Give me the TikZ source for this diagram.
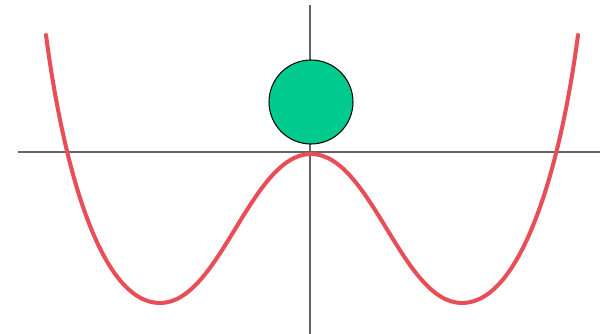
\documentclass[tikz,border=0pt]{standalone}
\definecolor{axisgray}{RGB}{100,100,100}
\definecolor{wellred}{RGB}{232,78,88}
\definecolor{ballgreen}{RGB}{0,202,142}
\begin{document}
\begin{tikzpicture}[x={(0.02cm,0)},y={(0,-0.02cm)},
  axis/.style={draw=axisgray,line width=1.1pt},
  well/.style={draw=wellred,line width=2.3pt,line cap=round,line join=round},
  ball/.style={circle,draw=black,line width=0.6pt,fill=ballgreen,minimum size=1.68cm,inner sep=0pt}]
\useasboundingbox (0,0) rectangle (600,334);
\coordinate (hl) at (18,152);
\coordinate (hr) at (600,152);
\coordinate (vt) at (310,5);
\coordinate (vb) at (310,334);
\coordinate (lt) at (46,35);
\coordinate (lm) at (160,303);
\coordinate (pk) at (311,154);
\coordinate (rm) at (462,303);
\coordinate (rt) at (578,35);
\draw[axis] (hl) -- (hr);
\draw[axis] (vt) -- (vb);
\draw[well] (lt) .. controls (63,165) and (100,303) .. (lm)
  .. controls (220,303) and (251,154) .. (pk)
  .. controls (371,154) and (402,303) .. (rm)
  .. controls (522,303) and (561,165) .. (rt);
\node[ball] (b) at (311,102) {};
\end{tikzpicture}
\end{document}
